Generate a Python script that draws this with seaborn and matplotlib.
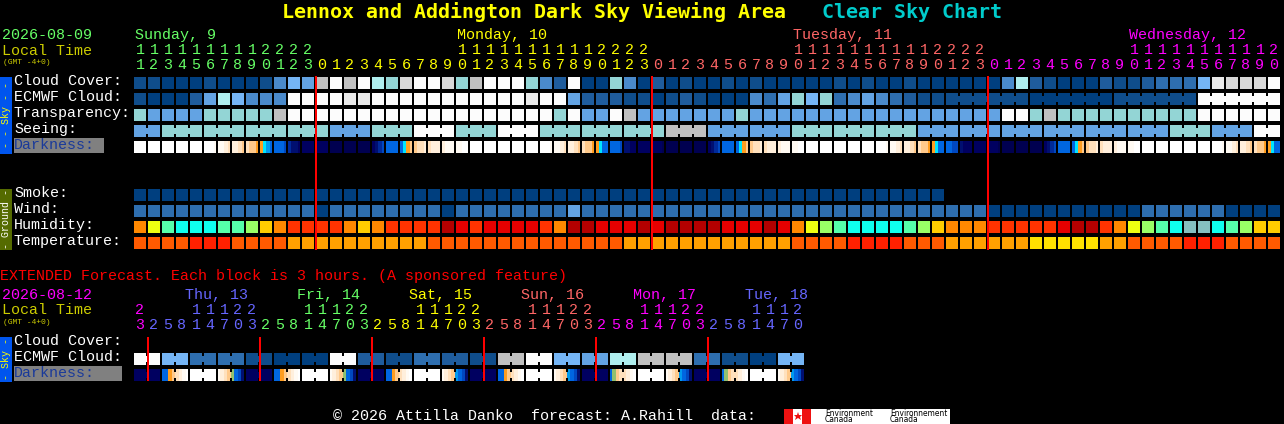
import numpy as np
import matplotlib
matplotlib.use('Agg')
import matplotlib.pyplot as plt
from matplotlib.colors import ListedColormap
from matplotlib.patches import Rectangle
import seaborn as sns

# chart data (levels index into the palettes below)
hours_main = [11, 12, 13, 14, 15, 16, 17, 18, 19, 20, 21, 22, 23] + list(range(24)) + list(range(24)) + list(range(21))
hours_ext = [23] + [2, 5, 8, 11, 14, 17, 20, 23] * 5 + [2, 5, 8, 11, 14, 17, 20]

days_main = ["Sunday, 9", "Monday, 10", "Tuesday, 11", "Wednesday, 12"]
days_ext = ["Thu, 13", "Fri, 14", "Sat, 15", "Sun, 16", "Mon, 17", "Tue, 18"]

cloud_cover = [1, 1, 0, 0, 0, 1, 0, 0, 0, 1,
               4, 6, 5, 9, 12, 9, 12, 8, 7, 10, 12,
               12, 10, 7, 9, 12, 12, 12, 7, 4, 2, 12,
               0, 0, 7, 4, 0, 2, 0,
               1, 0, 0, 1, 0, 1, 0, 0, 0, 0, 0, 1, 0,
               1, 0, 0, 1, 0, 0, 0, 0, 0, 0,
               4, 8, 2, 1, 0, 0, 0, 2, 1, 1, 2, 3, 3, 3, 6, 11, 10, 10, 10, 12]
ecmwf_cloud = [1, 0, 0, 0, 2, 5, 8, 6, 4, 4, 4,
               12, 12, 12, 12, 11, 11, 12, 12, 12, 12,
               12, 12, 12, 12, 12, 12, 12, 11, 12, 12,
               5, 2, 2, 2, 1, 1, 0, 1, 2, 1, 0, 0, 0, 4, 3, 5, 7, 6, 7, 3, 4,
               5, 4, 3, 2, 1, 1,
               1, 1, 1, 1, 1, 1, 0, 0, 0, 0, 0, 0, 1, 1, 1, 1, 1, 1, 12, 12, 12, 12, 12, 12]
ecmwf_blocks = [1] * 58 + [6, 6, 6, 6]
transparency = [7, 5, 5, 5, 5, 7, 7, 7, 7, 7, 9] + [12] * 19 + [7, 12, 5, 5, 12, 9, 5] + [5] * 6 + [7] + [5] * 18 + [12, 12, 7, 9] + [7] * 10 + [12] * 6
seeing_blocks = [2] + [3] * 26 + [2]
seeing_values = [5, 7, 7, 7, 7, 5, 7, 12, 7, 12, 7, 7, 7, 9, 5, 5, 7, 7, 7, 5, 5, 5, 5, 5, 5, 7, 5, 12]
smoke = [0] * 58
wind = [3] * 13 + [0] + [3] * 8 + [0] + [3] * 8 + [5] + [3] * 29 + [0] * 11 + [3] * 6 + [0] * 4
humidity = [6, 4, 2, 1, 1, 1, 2, 2, 3, 5, 6, 7, 7, 7, 7, 6, 5, 6, 7, 7, 7,
            7, 9, 8, 7, 8, 8, 8, 8, 7, 6, 9, 9, 8, 8, 8, 9, 8, 9, 9, 9, 9, 8, 8, 8, 9, 8, 6, 4, 3, 2, 1,
            1, 1, 1, 2, 3, 5, 6, 6, 6, 7, 7, 7, 7, 7, 8, 9, 9, 7, 6, 4, 3, 2, 1, 0, 0, 1, 2, 3, 5, 5]
temperature = [2, 2, 2, 2, 3, 3, 3, 2, 2, 2, 2] + [1] * 10 + [2] * 14 + [1] * 12 + [2] * 4 + [3] + [3, 3, 3, 2, 2, 2] + [1] * 6 + [0] * 5 + [1, 1, 2, 2, 2, 2, 3, 3, 3, 2, 2, 2, 2]

# darkness changes inside a block, so four readings per block
darkness_main = """
0000 0000 0000 0000 0000 0001 1123 2234 3445 5678 8889 abbc cccc
cccc dddd dddd dddd cba9 8888 8654 4332 3222 2111 1100 0000 0000 0000 0000 0000 0001 1123 2234 3445 5688 8889 bbcc
cccc cccd dddd dddd dddd cba9 8888 8654 4332 3222 2111 1100 0000 0000 0000 0000 0000 0001 1123 2234 3445 5688 8899 bccc
cccc cccd dddd dddd dddd cba9 8888 8654 4332 3222 2111 1100 0000 0000 0000 0000 0000 0001 1123 2234 3445 5688
""".split()
darkness_ext = """
cccc cccc 8854 3210 0000 0000 1234 g89b
cccc cccc 8854 3210 0000 0000 1234 g89b
cccc cccc 8854 3210 0000 0000 1234 789b
cccc cccc 8854 3210 0000 0000 1234 789b
cccc cccc 8g43 3210 0000 0000 1234 789b
cccc cccc 8g43 3210 0000 0000 1234 789b
""".split()
ecmwf_ext = [12, 6, 3, 3, 1, 0, 0, 12, 2, 1, 3, 2, 1, 9, 12, 6, 5, 8, 9, 9, 3, 1, 0, 6]
ext_blocks = [2] * 24

sky_palette = ['#003f7f', '#0f4d8b', '#1f5c9c', '#2e6eaf', '#4a8acb', '#63a3e3', '#75b5f5',
               '#93d5d5', '#afeeee', '#c0c0c0', '#d8d8d8', '#eaeaea', '#fcfcfc']
humidity_palette = ['#85c0c0', '#0fffee', '#55ffaa', '#99ff66', '#eeff11', '#ffcc00', '#ff8800', '#ff3300', '#e60000', '#b30000']
temp_palette = ['#ffe000', '#ffa000', '#ff5a00', '#ff2000']
dark_codes = '0123456789abcdg'
dark_palette = ['#ffffff', '#fffaf3', '#ffefdc', '#ffe0bc', '#ffc98a', '#ff9d20', '#00e5ff', '#0099ee', '#0066e0',
                '#0048c0', '#002a9a', '#000f70', '#000060', '#000050', '#90c070']

W, H = 1284, 424
sns.set_theme(style='dark', rc={'figure.facecolor': 'black', 'axes.facecolor': 'black', 'savefig.facecolor': 'black'})
plt.rcParams['font.family'] = ['Liberation Mono', 'DejaVu Sans Mono']

fig = plt.figure(figsize=(W / 72, H / 72), dpi=72)

GREEN, YELLOW, PINK, MAGENTA, VIOLET = '#66ff66', '#ffff00', '#ff6666', '#ff00ff', '#6666ff'
LOCAL = '#cccc00'
LEFT, PITCH = 133, 14


def draw_row(values, y, palette, n_cols=82, blocks=None):
    # one heatmap per row, black lines cut it into blocks
    values = np.asarray(values, dtype=float)
    sub = len(values) // n_cols if len(values) >= n_cols else 1
    total = max(len(values), n_cols * sub)
    grid = np.full((1, total), np.nan)
    grid[0, :len(values)] = values
    ax = fig.add_axes([LEFT / W, 1 - (y + 12) / H, n_cols * PITCH / W, 12 / H])
    sns.heatmap(grid, ax=ax, mask=np.isnan(grid), cmap=ListedColormap(palette), vmin=-0.5, vmax=len(palette) - 0.5,
                cbar=False, xticklabels=False, yticklabels=False, linewidths=0)
    ax.set_xticks([])
    ax.set_yticks([])
    if blocks is None:
        blocks = [1] * n_cols
    starts = set(np.cumsum([0] + list(blocks)).tolist())
    for c in range(n_cols + 1):
        if c in starts:
            ax.vlines(c * sub, 0, 1, color='black', lw=2)
        else:
            ax.vlines(c * sub, 0, 0.25, color='black', lw=2)
            ax.vlines(c * sub, 0.75, 1, color='black', lw=2)
    return ax


def dark_levels(tokens):
    return [dark_codes.index(ch) for tok in tokens for ch in tok]


draw_row(cloud_cover, 77, sky_palette)
draw_row(ecmwf_cloud, 93, sky_palette, blocks=ecmwf_blocks)
draw_row(transparency, 109, sky_palette)
draw_row(np.repeat(seeing_values, seeing_blocks), 125, sky_palette, blocks=seeing_blocks)
draw_row(dark_levels(darkness_main), 141, dark_palette)

smoke_ax = draw_row(smoke, 189, sky_palette)
draw_row(wind, 205, sky_palette)
draw_row(humidity, 221, humidity_palette)
draw_row(temperature, 237, temp_palette)

draw_row(np.repeat(ecmwf_ext, ext_blocks), 353, sky_palette, n_cols=48, blocks=ext_blocks)
draw_row(dark_levels(darkness_ext), 369, dark_palette, n_cols=48, blocks=ext_blocks)

# overlay in pixel coordinates for the text, side bars and red midnight lines
ov = fig.add_axes([0, 0, 1, 1], zorder=10)
ov.set_xlim(0, W)
ov.set_ylim(H, 0)
ov.axis('off')
ov.patch.set_alpha(0)


def txt(x, y, s, color='white', size=15, **kw):
    kw.setdefault('ha', 'left')
    ov.text(x, y, s, color=color, fontsize=size, va='center', **kw)


txt(282, 12, "Lennox and Addington Dark Sky Viewing Area", YELLOW, 20, fontweight='bold', family='DejaVu Sans Mono')
txt(822, 12, "Clear Sky Chart", '#00cccc', 20, fontweight='bold', family='DejaVu Sans Mono')

# main header
txt(2, 35, "2026-08-09", GREEN)
txt(2, 51, "Local Time", LOCAL)
txt(3, 62, "(GMT -4+0)", LOCAL, 8)
main_colors = [GREEN] * 13 + [YELLOW] * 24 + [PINK] * 24 + [MAGENTA] * 21
for i, (h, c) in enumerate(zip(hours_main, main_colors)):
    cx = 140 + i * PITCH
    if h >= 10:
        txt(cx, 50, str(h // 10), c, ha='center')
    txt(cx, 65, str(h % 10), c, ha='center')
midnights = [i for i, h in enumerate(hours_main) if h == 0]
for x0, name, c in zip([135, 457, 793, 1129], days_main, [GREEN, YELLOW, PINK, MAGENTA]):
    txt(x0, 35, name, c)

for y, lab in zip([81, 97, 113, 129], ["Cloud Cover:", "ECMWF Cloud:", "Transparency:", "Seeing:"]):
    txt(14, y, lab)
ov.add_patch(Rectangle((14, 138), 90, 15, color='#808080', lw=0))
txt(14, 145, "Darkness:", '#1a3a9a')
for y, lab in zip([193, 209, 225, 241], ["Smoke:", "Wind:", "Humidity:", "Temperature:"]):
    txt(14, y, lab)

ov.add_patch(Rectangle((0, 77), 12, 77, color='#0055ee', lw=0))
ov.text(6, 115, "- - Sky - -", color=YELLOW, fontsize=10, rotation=90, ha='center', va='center')
ov.add_patch(Rectangle((0, 189), 12, 61, color='#556b00', lw=0))
ov.text(6, 219, "- Ground -", color='white', fontsize=10, rotation=90, ha='center', va='center')

ov.vlines([134 + m * PITCH for m in midnights], 76, 250, color='#ff0000', lw=2)

# extended part
txt(0, 276, "EXTENDED Forecast. Each block is 3 hours. (A sponsored feature)", '#ff0000')
txt(2, 295, "2026-08-12", MAGENTA)
txt(2, 310, "Local Time", LOCAL)
txt(3, 322, "(GMT -4+0)", LOCAL, 8)
ext_colors = [MAGENTA] + [VIOLET] * 8 + [GREEN] * 8 + [YELLOW] * 8 + [PINK] * 8 + [MAGENTA] * 8 + [VIOLET] * 7
for i, (h, c) in enumerate(zip(hours_ext, ext_colors)):
    cx = 140 + i * PITCH
    if h >= 10 and i > 0 or i == 0:
        txt(cx, 310, str(h // 10), c, ha='center')
    txt(cx, 325, str(h % 10), c, ha='center')
for x0, name, c in zip([185, 297, 409, 521, 633, 745], days_ext, [VIOLET, GREEN, YELLOW, PINK, MAGENTA, VIOLET]):
    txt(x0, 295, name, c)

txt(14, 341, "Cloud Cover:")
txt(14, 357, "ECMWF Cloud:")
ov.add_patch(Rectangle((14, 366), 108, 15, color='#808080', lw=0))
txt(14, 373, "Darkness:", '#1a3a9a')
ov.add_patch(Rectangle((0, 337), 12, 45, color='#0055ee', lw=0))
ov.text(6, 359, "- Sky -", color=YELLOW, fontsize=10, rotation=90, ha='center', va='center')
ov.vlines([134 + m * PITCH for m in range(1, 48, 8)], 337, 381, color='#ff0000', lw=2)

# footer and the logo strip
txt(333, 416, "\u00a9 2026 Attilla Danko  forecast: A.Rahill  data:")
ov.add_patch(Rectangle((784, 409), 166, 15, color='white', lw=0))
ov.add_patch(Rectangle((784, 409), 9, 15, color='#ee1111', lw=0))
ov.add_patch(Rectangle((802, 409), 9, 15, color='#ee1111', lw=0))
ov.plot([797.5], [416], marker='*', ms=9, color='#ee1111', mew=0)
txt(825, 413, "Environment", 'black', 7.5, family='DejaVu Sans')
txt(825, 420, "Canada", 'black', 7.5, family='DejaVu Sans')
txt(890, 413, "Environnement", 'black', 7.5, family='DejaVu Sans')
txt(890, 420, "Canada", 'black', 7.5, family='DejaVu Sans')

fig.savefig('out.png', dpi=72, facecolor='black')
